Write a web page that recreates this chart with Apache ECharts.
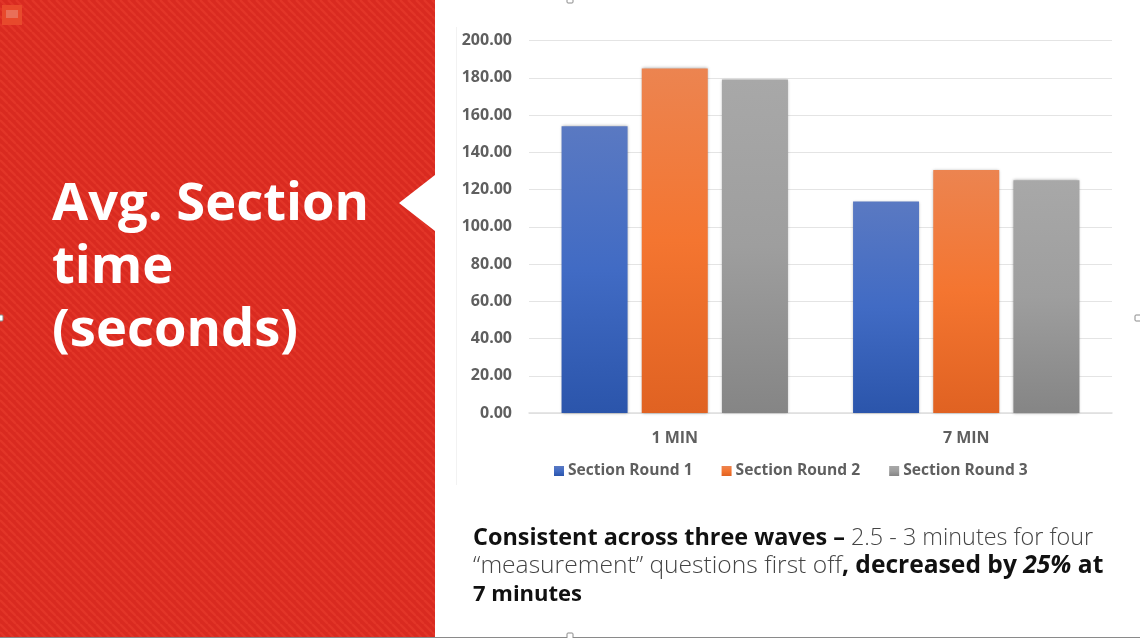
<!DOCTYPE html>
<html><head><meta charset="utf-8">
<style>html,body{margin:0;padding:0;background:#fff}#c{width:1140px;height:638px}</style>
<script src="https://cdn.jsdelivr.net/npm/echarts@6/dist/echarts.min.js"></script>
</head><body><div id="c"></div>
<script>
const categories = ['1 MIN', '7 MIN'];
const round1 = [154, 113.5];
const round2 = [185, 130.5];
const round3 = [179, 125];
const seriesNames = ['Section Round 1', 'Section Round 2', 'Section Round 3'];
const yMax = 200, yStep = 20;

function stripes() {
  const s = 8, cv = document.createElement('canvas');
  cv.width = s; cv.height = s;
  const g = cv.getContext('2d');
  g.fillStyle = '#D92A20'; g.fillRect(0, 0, s, s);
  g.strokeStyle = '#E23528'; g.lineWidth = 2.4;
  for (let i = -s; i <= s; i += s) { g.beginPath(); g.moveTo(i, 0); g.lineTo(i + s, s); g.stroke(); }
  return cv;
}
function grad(a, b, c) {
  return { type: 'linear', x: 0, y: 0, x2: 0, y2: 1, colorStops: [
    { offset: 0, color: a }, { offset: 0.5, color: b }, { offset: 1, color: c }] };
}
const chartFont = '"Open Sans", sans-serif';
const slideFont = '"Open Sans", sans-serif';
function bar(name, data, fill) {
  return { name, type: 'bar', data, barWidth: 66, barGap: '21.5%', itemStyle: {
    color: fill, shadowColor: 'rgba(0,0,0,0.35)', shadowBlur: 3 } };
}
const pattern = { image: stripes(), repeat: 'repeat' };
function handle(x, y) {
  return { type: 'rect', z: 20, shape: { x, y, width: 6, height: 6, r: 1 }, style: { fill: '#fff', stroke: '#8a8a8a', lineWidth: 1 } };
}
function richFor(size) {
  return {
    b: { fontFamily: slideFont, fontWeight: 'bold', fontSize: size, fill: '#111', color: '#111' },
    l: { fontFamily: slideFont, fontWeight: 300, fontSize: size, fill: '#444', color: '#444' },
    bi: { fontFamily: slideFont, fontWeight: 'bold', fontStyle: 'italic', fontSize: size, fill: '#111', color: '#111' }
  };
}
function line(y, size, text) {
  return { type: 'text', z: 10, x: 473, y, style: { text, rich: richFor(size), fontFamily: slideFont, fontSize: size, verticalAlign: 'middle' } };
}
function title(y, text) {
  return { type: 'text', z: 10, x: 52, y, style: { text, fontFamily: slideFont, fontWeight: 'bold', fontSize: 52.5, fill: '#fff',
    verticalAlign: 'middle', shadowColor: 'rgba(60,0,0,0.7)', shadowBlur: 3, shadowOffsetX: 1, shadowOffsetY: 1 } };
}
const chart = echarts.init(document.getElementById('c'));
chart.setOption({
  animation: false,
  backgroundColor: '#fff',
  grid: { left: 529, right: 28, top: 40.5, bottom: 225 },
  legend: { left: 554, top: 463, padding: 0, itemWidth: 10, itemHeight: 10, itemGap: 29, icon: 'rect',
    textStyle: { fontFamily: chartFont, fontWeight: 'bold', fontSize: 15.6, color: '#5f5f5f', padding: [0, 0, 0, -1] } },
  xAxis: { type: 'category', data: categories,
    axisLine: { lineStyle: { color: '#dedede', width: 1.5 } }, axisTick: { show: false },
    axisLabel: { margin: 17, fontFamily: chartFont, fontWeight: 'bold', fontSize: 16, color: '#5f5f5f' } },
  yAxis: { type: 'value', min: 0, max: yMax, interval: yStep,
    axisLine: { show: false }, axisTick: { show: false },
    splitLine: { lineStyle: { color: '#e4e4e4', width: 1.2 } },
    axisLabel: { margin: 17, formatter: v => v.toFixed(2), fontFamily: chartFont, fontWeight: 'bold', fontSize: 16, color: '#5f5f5f' } },
  series: [
    bar(seriesNames[0], round1, grad('#5A79C2', '#416BC4', '#2B55AB')),
    bar(seriesNames[1], round2, grad('#EC8450', '#F47530', '#E06222')),
    bar(seriesNames[2], round3, grad('#A8A8A8', '#9E9E9E', '#858585'))
  ],
  graphic: [
    { type: 'polygon', z: 5, shape: { points: [[0, 0], [435, 0], [435, 175], [399, 203], [435, 231], [435, 638], [0, 638]] },
      style: { fill: pattern } },
    { type: 'rect', z: 6, shape: { x: 2, y: 5, width: 20, height: 20 }, style: { fill: '#E8492C' } },
    { type: 'rect', z: 7, shape: { x: 6, y: 10, width: 12, height: 8 }, style: { fill: '#E96F58' } },
    { type: 'line', z: 1, shape: { x1: 456.5, y1: 27, x2: 456.5, y2: 485 }, style: { stroke: '#f2f2f2', lineWidth: 1 } },
    { type: 'line', z: 6, shape: { x1: 0, y1: 637.5, x2: 1140, y2: 637.5 }, style: { stroke: '#8a8a8a', lineWidth: 1 } },
    handle(567, -3), handle(567, 633), handle(1135, 315), handle(-3, 315),
    title(205, 'Avg. Section'), title(268, 'time'), title(331, '(seconds)'),
    line(538, 23.4, '{b|Consistent across three waves \u2013 }{l|2.5 - 3 minutes for four}'),
    line(566, 24.6, '{l|\u201cmeasurement\u201d questions first off}{b|, decreased by }{bi|25%}{b| at}'),
    line(595, 22, '{b|7 minutes}')
  ]
});
</script></body></html>
